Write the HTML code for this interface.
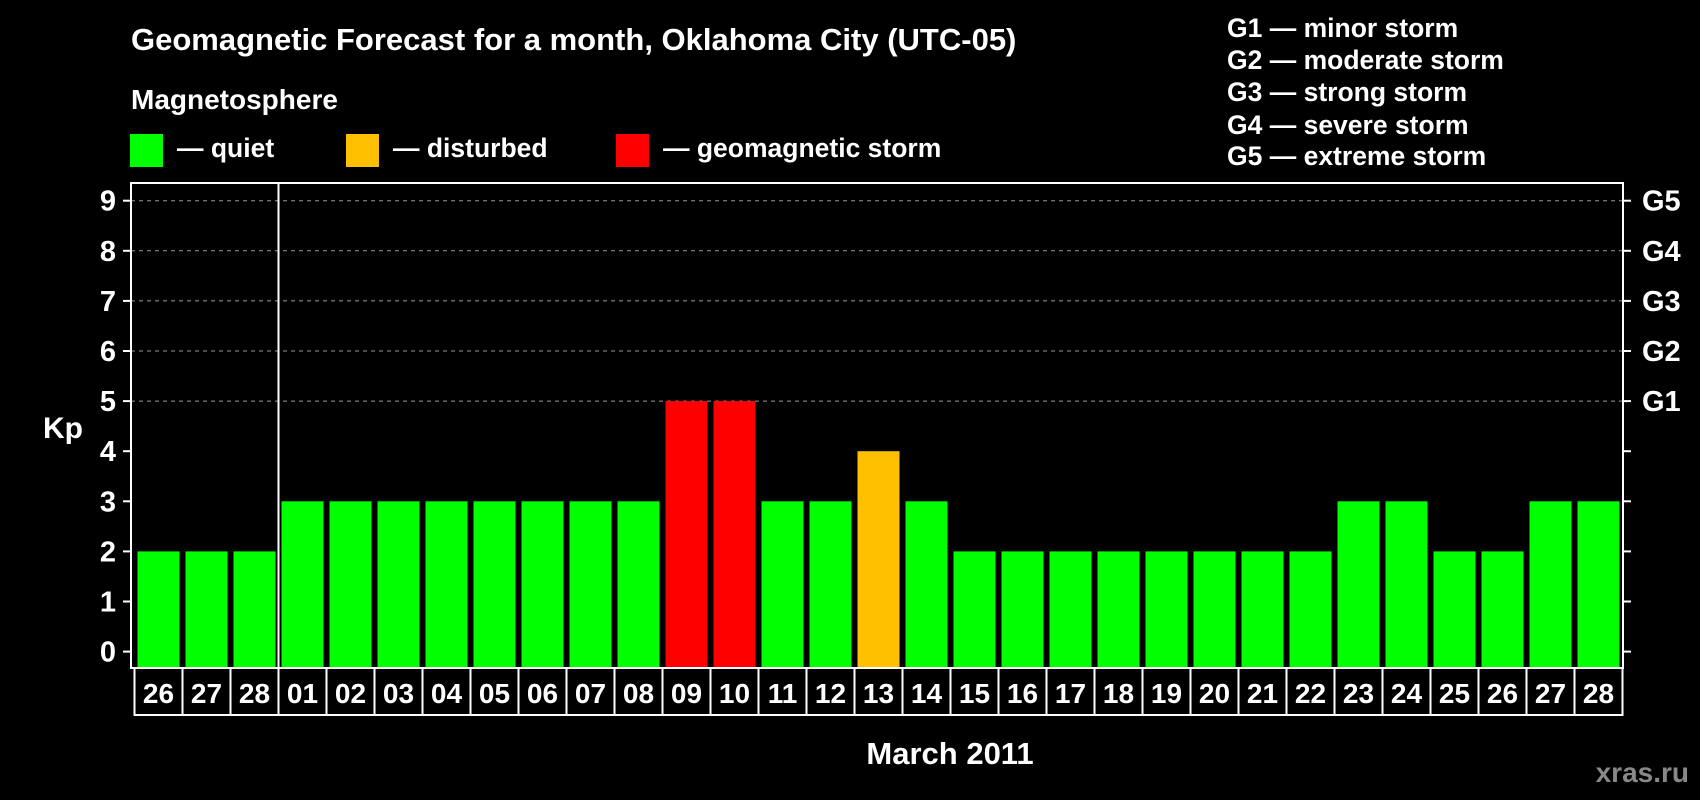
<!DOCTYPE html>
<html><head><meta charset="utf-8"><style>
html,body{margin:0;padding:0;background:#000;}
svg{display:block;font-family:"Liberation Sans",Arial,sans-serif;font-weight:bold;}
</style></head><body>
<svg id="chart" width="1700" height="800" viewBox="0 0 1700 800" xmlns="http://www.w3.org/2000/svg">
<rect width="1700" height="800" fill="#000"/>
<text x="131" y="50" fill="#fff" font-size="31">Geomagnetic Forecast for a month, Oklahoma City (UTC-05)</text>
<text x="131" y="109" fill="#fff" font-size="28">Magnetosphere</text>
<g><rect x="130" y="134" width="33" height="33" fill="#00ff00"/><text x="177" y="157" fill="#fff" font-size="26.5">— quiet</text></g>
<g><rect x="346" y="134" width="33" height="33" fill="#ffc000"/><text x="393" y="157" fill="#fff" font-size="26.5">— disturbed</text></g>
<g><rect x="616" y="134" width="33" height="33" fill="#ff0000"/><text x="663" y="157" fill="#fff" font-size="26.5">— geomagnetic storm</text></g>
<g fill="#fff" font-size="26.5">
<text x="1227" y="37">G1 — minor storm</text>
<text x="1227" y="69">G2 — moderate storm</text>
<text x="1227" y="101">G3 — strong storm</text>
<text x="1227" y="134">G4 — severe storm</text>
<text x="1227" y="165">G5 — extreme storm</text>
</g>
<text x="43" y="438" fill="#fff" font-size="30">Kp</text>
<text x="950" y="764" fill="#fff" font-size="31" text-anchor="middle">March 2011</text>
<text x="1689" y="782" fill="#888" font-size="28" text-anchor="end">xras.ru</text>
<g id="grid"></g><g id="bars"></g><g id="axes"></g><g id="labels"></g>
</svg>
<script>
const days=["26","27","28","01","02","03","04","05","06","07","08","09","10","11","12","13","14","15","16","17","18","19","20","21","22","23","24","25","26","27","28"];
const kp=[2,2,2,3,3,3,3,3,3,3,3,5,5,3,3,4,3,2,2,2,2,2,2,2,2,3,3,2,2,3,3];
const yTicks=[0,1,2,3,4,5,6,7,8,9];
const gLabels=["G1","G2","G3","G4","G5"];
const NS="http://www.w3.org/2000/svg";
const L=131,R=1623,T=183,B=668,y0=651.6,unit=50.1,x0=134.5,pitch=48;
const y=v=>y0-v*unit;
const x=i=>x0+i*pitch;
function mk(t,a,p){const e=document.createElementNS(NS,t);for(const k in a)e.setAttribute(k,a[k]);p.appendChild(e);return e;}
const grid=document.getElementById('grid'),bars=document.getElementById('bars'),axes=document.getElementById('axes'),labels=document.getElementById('labels');
for(let v=5;v<=9;v++){const g=mk('line',{x1:L,x2:R,y1:y(v),y2:y(v),stroke:'#999','stroke-width':1,'stroke-dasharray':'4,4'},grid);

}
kp.forEach((v,i)=>{const c=v>=5?'#ff0000':(v>=4?'#ffc000':'#00ff00');
const b=mk('rect',{x:x(i)+3,y:y(v),width:42,height:B-y(v),fill:c},bars);


const cell=mk('rect',{x:x(i),y:B,width:pitch,height:47,fill:'none',stroke:'#fff','stroke-width':2},labels);


const t=mk('text',{x:x(i)+pitch/2,y:B+35,fill:'#fff','font-size':28,'text-anchor':'middle'},labels);t.textContent=days[i];

});
const fr=mk('rect',{x:L,y:T,width:R-L,height:B-T,fill:'none',stroke:'#fff','stroke-width':2},axes);


const dv=mk('line',{x1:x(3),x2:x(3),y1:T,y2:B,stroke:'#fff','stroke-width':2},axes);


yTicks.forEach(v=>{mk('line',{x1:L-8,x2:L,y1:y(v),y2:y(v),stroke:'#fff','stroke-width':2},axes);
mk('line',{x1:R,x2:R+8,y1:y(v),y2:y(v),stroke:'#fff','stroke-width':2},axes);
const t=mk('text',{x:116,y:y(v)+10,fill:'#fff','font-size':29,'text-anchor':'end'},axes);t.textContent=v;

});
gLabels.forEach((g,i)=>{const t=mk('text',{x:1642,y:y(5+i)+10,fill:'#fff','font-size':29},axes);t.textContent=g;

});
</script>
</body></html>
